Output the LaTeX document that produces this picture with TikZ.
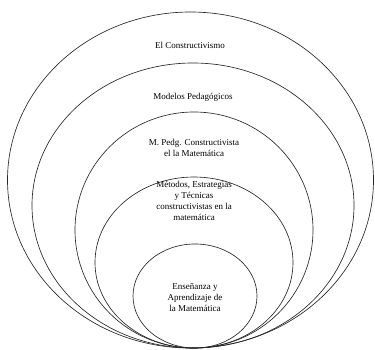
\documentclass[tikz,border=0pt]{standalone}
\usepackage{fontspec}
\setmainfont{Liberation Serif}
\usetikzlibrary{positioning}
\tikzset{
  ring/.style={draw=black!85, line width=.65pt},
  lbl/.style={font=\fontsize{9}{11}\selectfont, align=center, inner sep=1pt},
}
\begin{document}
\begin{tikzpicture}[x=1pt, y=-1pt]
  \useasboundingbox (0,0) rectangle (375,350);
  % nested rings, all touching at the bottom
  \draw[ring] (190.5,180) ellipse [x radius=183, y radius=168];
  \draw[ring] (193,205.5) ellipse [x radius=161, y radius=142.5];
  \draw[ring] (194,230) ellipse [x radius=119, y radius=118];
  \draw[ring] (194,262.5) ellipse [x radius=99, y radius=85.5];
  \draw[ring] (195,296) ellipse [x radius=62, y radius=52];
  % labels
  \node[lbl] (constr) at (190,45) {El Constructivismo};
  \node[lbl] (modelos) at (193,97) {Modelos Pedagógicos};
  \node[lbl] (mpedg) at (194,148) {M. Pedg. Constructivista\\el la Matemática};
  \node[lbl] (metodos) at (194,201) {Métodos, Estrategias\\y Técnicas\\constructivistas en la\\matemática};
  \node[lbl] (ensen) at (195,298) {Enseñanza y\\Aprendizaje de\\la Matemática};
\end{tikzpicture}
\end{document}
